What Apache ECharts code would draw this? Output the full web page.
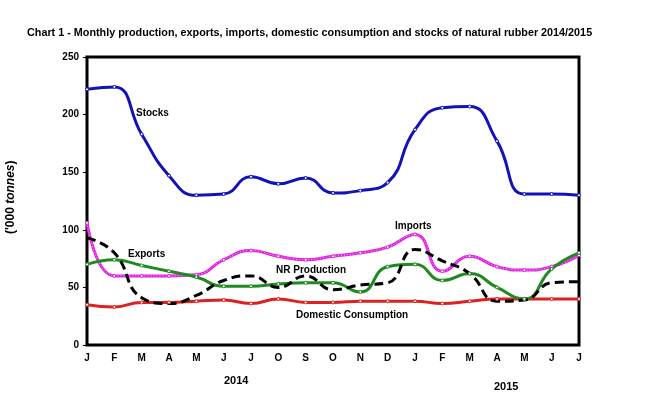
<!DOCTYPE html>
<html>
<head>
<meta charset="utf-8">
<script src="https://cdn.jsdelivr.net/npm/echarts@6/dist/echarts.min.js"></script>
<style>html,body{margin:0;padding:0;background:#fff}#c{width:656px;height:395px}</style>
</head>
<body>
<div id="c"></div>
<script>
const months = ['J','F','M','A','M','J','J','O','S','O','N','D','J','F','M','A','M','J','J'];
const stocks = [222,224,183,147,130,131,146,140,145,132,134,141,187,206,207,177,131,131,130];
const imports = [106,60,60,60,61,74,82,77,74,77,80,85,96,64,77,68,65,68,78];
const exportsData = [70,74,69,64,59,51,51,53,54,54,46,68,70,56,62,50,40,66,80];
const production = [93,80,41,36,43,56,60,50,60,48,52,54,83,73,62,38,39,54,55];
const consumption = [35,33,37,37,38,39,36,40,37,37,38,38,38,36,38,40,40,40,40];
const titleText = 'Chart 1 - Monthly production, exports, imports, domestic consumption and stocks of natural rubber 2014/2015';

const chart = echarts.init(document.getElementById('c'));
const F = 'Liberation Sans, Arial, sans-serif';
const SM = 0.5;
function line(name, data, color, opts) {
  return Object.assign({
    name, type: 'line', data, smooth: SM,
    symbol: 'circle', symbolSize: 3,
    itemStyle: { color: '#fff', borderColor: color, borderWidth: 1 },
    lineStyle: { color, width: 3 }
  }, opts || {});
}
chart.setOption({
  animation: false,
  backgroundColor: '#fff',
  title: {
    text: titleText, left: 22, top: 23,
    textStyle: { fontFamily: F, fontSize: 10.8, fontWeight: 'bold', color: '#000' }
  },
  grid: { left: 87, right: 77, top: 57, bottom: 50, show: true, borderColor: '#000', borderWidth: 3 },
  xAxis: {
    type: 'category', data: months, boundaryGap: false,
    axisLine: { show: false }, axisTick: { show: false },
    axisLabel: { fontFamily: F, fontSize: 10, fontWeight: 'bold', color: '#000', margin: 8, interval: 0 },
    splitLine: { show: false }
  },
  yAxis: {
    type: 'value', min: 0, max: 250, interval: 50,
    axisLine: { show: false }, axisTick: { show: true, length: 4, inside: false, lineStyle: { color: '#000' } },
    axisLabel: { fontFamily: F, fontSize: 10, fontWeight: 'bold', color: '#000', margin: 8 },
    splitLine: { show: false }
  },
  series: [
    line('Domestic Consumption', consumption, '#dd2020'),
    line('Imports', imports, '#e020e0'),
    { name: 'ImportsDots', type: 'line', data: imports, smooth: SM, symbol: 'none', silent: true,
      lineStyle: { color: 'rgba(255,255,255,0.7)', width: 1, type: [1, 2] } },
    line('Exports', exportsData, '#1f8a1f'),
    line('NR Production', production, '#000', { symbol: 'none', lineStyle: { color: '#000', width: 3, type: [9, 5] } }),
    line('Stocks', stocks, '#1212b8')
  ],
  graphic: [
    { type: 'text', left: 136, top: 108, style: { text: 'Stocks', font: 'bold 10px ' + F, fill: '#000' } },
    { type: 'text', left: 128, top: 249, style: { text: 'Exports', font: 'bold 10px ' + F, fill: '#000' } },
    { type: 'text', left: 276, top: 265, style: { text: 'NR Production', font: 'bold 10px ' + F, fill: '#000' } },
    { type: 'text', left: 395, top: 221, style: { text: 'Imports', font: 'bold 10px ' + F, fill: '#000' } },
    { type: 'text', left: 296, top: 310, style: { text: 'Domestic Consumption', font: 'bold 10px ' + F, fill: '#000' } },
    { type: 'text', left: 224, top: 375, style: { text: '2014', font: 'bold 11px ' + F, fill: '#000' } },
    { type: 'text', left: 494, top: 381, style: { text: '2015', font: 'bold 11px ' + F, fill: '#000' } },
    { type: 'text', x: 5, y: 234, rotation: Math.PI / 2,
      style: { text: "{a|('000 }{b|tonnes}{a|)}", fill: '#000',
        rich: { a: { font: 'bold 12px ' + F, fill: '#000' }, b: { font: 'italic bold 12px ' + F, fill: '#000' } } } }
  ]
});
</script>
</body>
</html>
